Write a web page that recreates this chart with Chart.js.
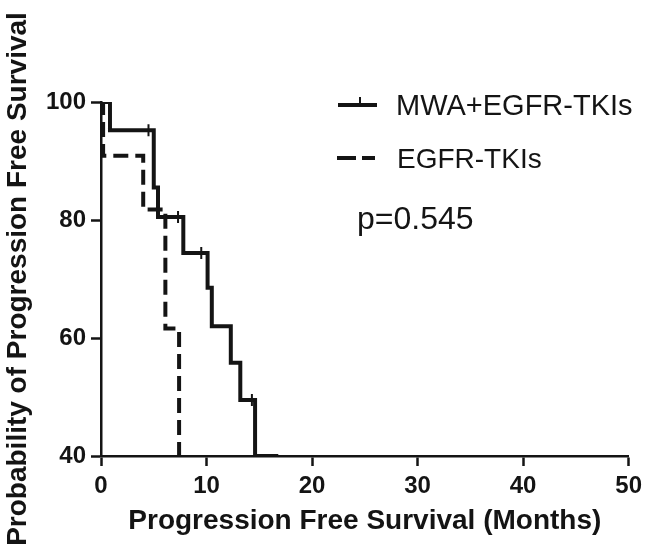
<!DOCTYPE html>
<html>
<head>
<meta charset="utf-8">
<style>
  html, body { margin: 0; padding: 0; background: #fff; }
  #wrap { width: 648px; height: 559px; position: relative; }
</style>
<script src="https://cdn.jsdelivr.net/npm/chart.js@4.4.1/dist/chart.umd.min.js"></script>
</head>
<body>
<div id="wrap"><canvas id="kmChart"></canvas></div>
<script>
// Kaplan-Meier steps (months, % progression free)
const comboTimes = [0, 0.85, 5.0, 5.4, 7.8, 10.1, 10.5, 12.3, 13.2, 14.6, 16.8];
const comboSurv  = [100, 95.2, 85.5, 80.5, 74.4, 68.5, 62.0, 55.8, 49.5, 40, 40];
const comboCensorTimes = [4.5, 7.3, 9.5, 14.3];
const comboCensorSurv  = [95.2, 80.5, 74.4, 49.5];

const tkiTimes = [0, 0.2, 4.0, 6.1, 7.4, 7.9];
const tkiSurv  = [100, 90.9, 81.8, 61.6, 40, 40];

const xTicks = [0, 10, 20, 30, 40, 50];
const yTicks = [40, 60, 80, 100];
const pValueText = 'p=0.545';

const ink = '#141414';
const fontFam = 'Arial, "Liberation Sans", sans-serif';

function toPoints(xs, ys) {
    return xs.map(function(x, i) { return { x: x, y: ys[i] }; });
}

// legend + p value drawn on the canvas, GraphPad style
const legendPlugin = {
    id: 'kmLegend',
    afterDraw: function(chart) {
        const ctx = chart.ctx;
        ctx.save();
        ctx.strokeStyle = ink;
        ctx.fillStyle = ink;
        ctx.lineWidth = 4;
        ctx.lineCap = 'butt';

        // solid sample with censor tick
        ctx.beginPath();
        ctx.moveTo(338, 105); ctx.lineTo(377, 105);
        ctx.stroke();
        ctx.lineWidth = 2;
        ctx.beginPath();
        ctx.moveTo(360, 105); ctx.lineTo(360, 97);
        ctx.stroke();

        // dashed sample
        ctx.lineWidth = 4;
        ctx.beginPath();
        ctx.moveTo(337, 158); ctx.lineTo(356, 158);
        ctx.moveTo(362, 158); ctx.lineTo(375, 158);
        ctx.stroke();

        ctx.textBaseline = 'alphabetic';
        ctx.textAlign = 'left';
        ctx.font = '29px ' + fontFam;
        ctx.fillText(chart.data.datasets[0].label, 396, 115);
        ctx.font = '28px ' + fontFam;
        ctx.fillText(chart.data.datasets[2].label, 397, 168);

        ctx.font = '32px ' + fontFam;
        ctx.fillText(pValueText, 357, 229);
        ctx.restore();
    }
};

new Chart(document.getElementById('kmChart'), {
    type: 'line',
    data: {
        datasets: [{
            label: 'MWA+EGFR-TKIs',
            data: toPoints(comboTimes, comboSurv),
            stepped: 'before',
            borderColor: ink,
            borderWidth: 4,
            pointRadius: 0,
            fill: false
        },
        {
            label: 'censored',
            type: 'scatter',
            data: toPoints(comboCensorTimes, comboCensorSurv),
            pointStyle: 'line',
            rotation: 90,
            pointRadius: 6,
            borderColor: ink,
            borderWidth: 2,
            showLine: false
        },
        {
            label: 'EGFR-TKIs',
            data: toPoints(tkiTimes, tkiSurv),
            stepped: 'before',
            borderColor: ink,
            borderWidth: 4,
            borderDash: [15, 7],
            pointRadius: 0,
            fill: false
        }]
    },
    options: {
        responsive: true,
        maintainAspectRatio: false,
        animation: false,
        layout: { padding: { top: 102, right: 19, left: 0, bottom: 0 } },
        plugins: {
            legend: { display: false },
            tooltip: { enabled: false }
        },
        scales: {
            x: {
                type: 'linear',
                min: 0,
                max: 50,
                afterBuildTicks: function(scale) {
                    scale.ticks = xTicks.map(function(v) { return { value: v }; });
                },
                afterFit: function(scale) { scale.height = 103; },
                grid: { display: true, drawOnChartArea: false, drawTicks: true, tickLength: 10, tickWidth: 2.5, tickColor: ink },
                border: { display: true, color: ink, width: 2.5 },
                ticks: { color: ink, padding: 6, maxRotation: 0, font: { size: 24, weight: 'bold', family: fontFam } },
                title: {
                    display: true,
                    text: 'Progression Free Survival (Months)',
                    color: ink,
                    padding: { top: 0, bottom: 21 },
                    font: { size: 28, weight: 'bold', family: fontFam }
                }
            },
            y: {
                min: 40,
                max: 100,
                afterBuildTicks: function(scale) {
                    scale.ticks = yTicks.map(function(v) { return { value: v }; });
                },
                afterFit: function(scale) { scale.width = 101; },
                grid: { display: true, drawOnChartArea: false, drawTicks: true, tickLength: 10, tickWidth: 2.5, tickColor: ink },
                border: { display: true, color: ink, width: 2.5 },
                ticks: { color: ink, padding: 5, font: { size: 24, weight: 'bold', family: fontFam } },
                title: {
                    display: true,
                    text: 'Probability of Progression Free Survival',
                    color: ink,
                    padding: { top: 1, bottom: 0 },
                    font: { size: 28, weight: 'bold', family: fontFam }
                }
            }
        }
    },
    plugins: [legendPlugin]
});
</script>
</body>
</html>
